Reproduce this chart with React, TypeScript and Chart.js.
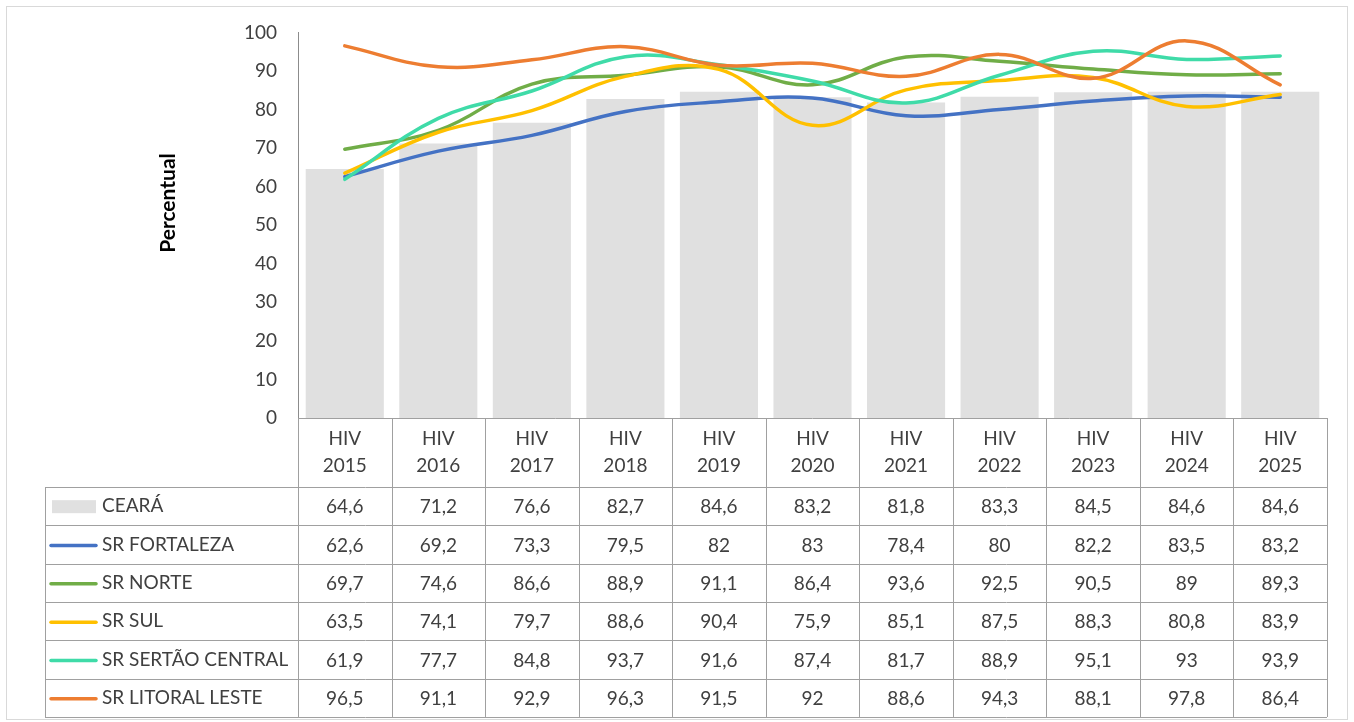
import React, { useEffect, useRef } from "react";
import { Chart, registerables } from "chart.js";

Chart.register(...registerables);

const years = ["2015", "2016", "2017", "2018", "2019", "2020", "2021", "2022", "2023", "2024", "2025"];
const categories = years.map((y) => ["HIV", y]);

const ceara = [64.6, 71.2, 76.6, 82.7, 84.6, 83.2, 81.8, 83.3, 84.5, 84.6, 84.6];
const fortaleza = [62.6, 69.2, 73.3, 79.5, 82, 83, 78.4, 80, 82.2, 83.5, 83.2];
const norte = [69.7, 74.6, 86.6, 88.9, 91.1, 86.4, 93.6, 92.5, 90.5, 89, 89.3];
const sul = [63.5, 74.1, 79.7, 88.6, 90.4, 75.9, 85.1, 87.5, 88.3, 80.8, 83.9];
const sertaoCentral = [61.9, 77.7, 84.8, 93.7, 91.6, 87.4, 81.7, 88.9, 95.1, 93, 93.9];
const litoralLeste = [96.5, 91.1, 92.9, 96.3, 91.5, 92, 88.6, 94.3, 88.1, 97.8, 86.4];

const seriesNames = ["CEARÁ", "SR FORTALEZA", "SR NORTE", "SR SUL", "SR SERTÃO CENTRAL", "SR LITORAL LESTE"];
const seriesColors = ["#E0E0E0", "#4472C4", "#70AD47", "#FFC000", "#3FDBA8", "#ED7D31"];
const yTicks = { min: 0, max: 100, step: 10 };
const yTitle = "Percentual";

const FONT = "Lato";
const TEXT = "#404040";
const GRID = "#A0A0A0";

const fmt = (v: number) => String(v).replace(".", ",");

const tablePlugin = {
  id: "tablePlugin",
  afterDraw(chart: any) {
    const ctx: CanvasRenderingContext2D = chart.ctx;
    const { left, right, bottom } = chart.chartArea;
    const n = categories.length;
    const colW = (right - left) / n;
    const headerH = 69;
    const rowH = 38.33;
    const legendLeft = 45;
    const allData = [ceara, fortaleza, norte, sul, sertaoCentral, litoralLeste];
    ctx.save();
    // outer frame
    ctx.strokeStyle = "#D9D9D9";
    ctx.lineWidth = 1;
    ctx.strokeRect(6.5, 6.5, chart.width - 13, chart.height - 9);

    // y title
    ctx.save();
    ctx.translate(168, 203);
    ctx.rotate(-Math.PI / 2);
    ctx.font = `bold 21px ${FONT}`;
    ctx.fillStyle = "#000000";
    ctx.textAlign = "center";
    ctx.textBaseline = "middle";
    ctx.fillText(yTitle, 0, 0);
    ctx.restore();

    // table lines
    ctx.strokeStyle = GRID;
    ctx.lineWidth = 1;
    const tBottom = bottom + headerH + rowH * seriesNames.length;
    ctx.beginPath();
    ctx.moveTo(left, Math.round(bottom) + 0.5);
    ctx.lineTo(right, Math.round(bottom) + 0.5);
    for (let r = 0; r <= seriesNames.length; r++) {
      const y = Math.round(bottom + headerH + rowH * r) + 0.5;
      ctx.moveTo(legendLeft, y);
      ctx.lineTo(right, y);
    }
    for (let c = 0; c <= n; c++) {
      const x = Math.round(left + colW * c) + 0.5;
      ctx.moveTo(x, bottom);
      ctx.lineTo(x, tBottom);
    }
    ctx.moveTo(legendLeft + 0.5, bottom + headerH);
    ctx.lineTo(legendLeft + 0.5, tBottom);
    ctx.stroke();

    // header
    ctx.font = `19px ${FONT}`;
    ctx.fillStyle = TEXT;
    ctx.textAlign = "center";
    ctx.textBaseline = "middle";
    categories.forEach((lab, i) => {
      const cx = left + colW * (i + 0.5);
      ctx.fillText(lab[0], cx, bottom + 21);
      ctx.fillText(lab[1], cx, bottom + 48);
    });

    // rows
    seriesNames.forEach((name, r) => {
      const cy = bottom + headerH + rowH * (r + 0.5) + 1;
      if (r === 0) {
        ctx.fillStyle = seriesColors[0];
        ctx.fillRect(52, cy - 7, 44, 13);
      } else {
        ctx.strokeStyle = seriesColors[r];
        ctx.lineWidth = 3.5;
        ctx.lineCap = "round";
        ctx.beginPath();
        ctx.moveTo(51, cy);
        ctx.lineTo(96, cy);
        ctx.stroke();
      }
      ctx.fillStyle = TEXT;
      ctx.textAlign = "left";
      ctx.fillText(name, 102, cy - 1);
      ctx.textAlign = "center";
      allData[r].forEach((v, i) => {
        ctx.fillText(fmt(v), left + colW * (i + 0.5), cy);
      });
    });
    ctx.restore();
  },
};

export default function App() {
  const ref = useRef<HTMLCanvasElement | null>(null);
  useEffect(() => {
    document.body.style.margin = "0";
    const lineDs = (label: string, data: number[], color: string, order: number) => ({
      type: "line" as const,
      label,
      data,
      borderColor: color,
      backgroundColor: color,
      borderWidth: 3.5,
      pointRadius: 0,
      tension: 0.4,
      fill: false,
      order,
      borderCapStyle: "round" as const,
    });
    const chart = new Chart(ref.current as HTMLCanvasElement, {
      type: "bar",
      data: {
        labels: categories,
        datasets: [
          {
            type: "bar" as const,
            label: seriesNames[0],
            data: ceara,
            backgroundColor: seriesColors[0],
            categoryPercentage: 0.835,
            barPercentage: 1,
            order: 10,
          } as any,
          lineDs(seriesNames[1], fortaleza, seriesColors[1], 5),
          lineDs(seriesNames[2], norte, seriesColors[2], 4),
          lineDs(seriesNames[3], sul, seriesColors[3], 3),
          lineDs(seriesNames[4], sertaoCentral, seriesColors[4], 2),
          lineDs(seriesNames[5], litoralLeste, seriesColors[5], 1),
        ],
      },
      options: {
        responsive: false,
        animation: false,
        layout: { padding: { left: 0, right: 27, top: 32, bottom: 304 } },
        plugins: { legend: { display: false }, tooltip: { enabled: false } },
        scales: {
          x: { display: false, offset: true },
          y: {
            min: yTicks.min,
            max: yTicks.max,
            ticks: {
              stepSize: yTicks.step,
              color: TEXT,
              padding: 21,
              font: { family: FONT, size: 19 },
            },
            grid: { display: false, drawTicks: false },
            border: { display: true, color: "#8C8C8C", width: 1 },
            afterFit: (scale: any) => {
              scale.width = 298;
            },
          },
        },
      },
      plugins: [tablePlugin],
    });
    return () => chart.destroy();
  }, []);
  return (
    <div style={{ position: "absolute", left: 0, top: 0, width: 1354, height: 722, background: "#fff" }}>
      <canvas ref={ref} width={1354} height={722} />
    </div>
  );
}
